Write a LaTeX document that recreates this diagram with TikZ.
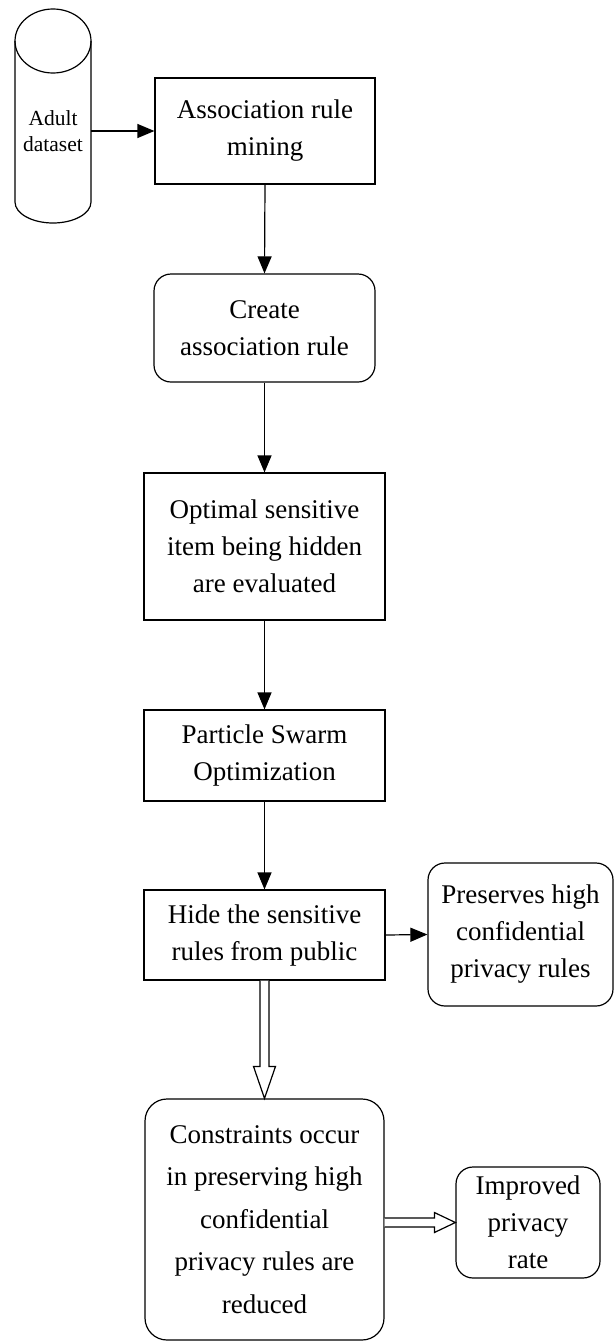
\documentclass[tikz,border=0pt]{standalone}
\usepackage{fontspec}
\setmainfont{Liberation Serif}
\usetikzlibrary{arrows.meta,calc}
\begin{document}
\begin{tikzpicture}[x=1pt,y=-1pt,
  every node/.style={inner sep=0pt,align=center},
  base/.style={draw,line width=1.2pt,font=\fontsize{27}{37}\selectfont},
  sq/.style={base,rectangle},
  rnd/.style={base,rectangle,rounded corners=17pt},
  arr/.style={line width=1.2pt,-{Triangle[length=17pt,width=14pt]}},
  hollow/.style={line width=1.2pt,fill=white}]
\useasboundingbox (0,0) rectangle (615,1341);
% cylinder
\draw[line width=1.2pt] (15,41) -- (15,202) arc[start angle=180,end angle=360,x radius=38,y radius=-21] -- (91,41);
\draw[line width=1.2pt] (53,41) ellipse[x radius=38,y radius=32];
\node[minimum width=76pt,minimum height=40pt,font=\fontsize{21.5}{26}\selectfont] (cyl) at (53,131) {Adult\\dataset};
% boxes
\node[sq,minimum width=220pt,minimum height=106pt] (b1) at (265,131) {Association rule\\mining};
\node[rnd,minimum width=221pt,minimum height=108pt] (b2) at (264.5,328) {Create\\association rule};
\node[sq,minimum width=241pt,minimum height=147pt] (b3) at (264.5,546.5) {Optimal sensitive\\item being hidden\\are evaluated};
\node[sq,minimum width=241pt,minimum height=91pt] (b4) at (264.5,755.5) {Particle Swarm\\Optimization};
\node[sq,minimum width=241pt,minimum height=90pt] (b5) at (264.5,935) {Hide the sensitive\\rules from public};
\node[rnd,minimum width=185pt,minimum height=143pt] (b6) at (520.5,934.5) {Preserves high\\confidential\\privacy rules};
\node[rnd,rounded corners=22pt,minimum width=239pt,minimum height=241pt,font=\fontsize{27}{42.5}\selectfont] (b7) at (264.5,1219.5) {Constraints occur\\in preserving high\\confidential\\privacy rules are\\reduced};
\node[rnd,minimum width=144pt,minimum height=111pt] (b8) at (528,1222.5) {Improved\\privacy\\rate};
% arrows
\draw[arr] (cyl.east) -- (b1.west);
\draw[arr] (b1.south) -- (b2.north);
\draw[arr] (b2.south) -- (b3.north);
\draw[arr] (b3.south) -- (b4.north);
\draw[arr] (b4.south) -- (b5.north);
\draw[arr] (b5.east) -- (b6.west);
% hollow arrows
\draw[hollow] ($(b5.south)+(-4.5,0)$) -- ($(b7.north)+(-4.5,-32)$) -- ($(b7.north)+(-11,-32)$) -- (b7.north) -- ($(b7.north)+(11,-32)$) -- ($(b7.north)+(4.5,-32)$) -- ($(b5.south)+(4.5,0)$);
\draw[hollow] ($(b7.east|-b8.west)+(0,-4.5)$) -- ($(b8.west)+(-21,-4.5)$) -- ($(b8.west)+(-21,-10)$) -- (b8.west) -- ($(b8.west)+(-21,10)$) -- ($(b8.west)+(-21,4.5)$) -- ($(b7.east|-b8.west)+(0,4.5)$);
\end{tikzpicture}
\end{document}
